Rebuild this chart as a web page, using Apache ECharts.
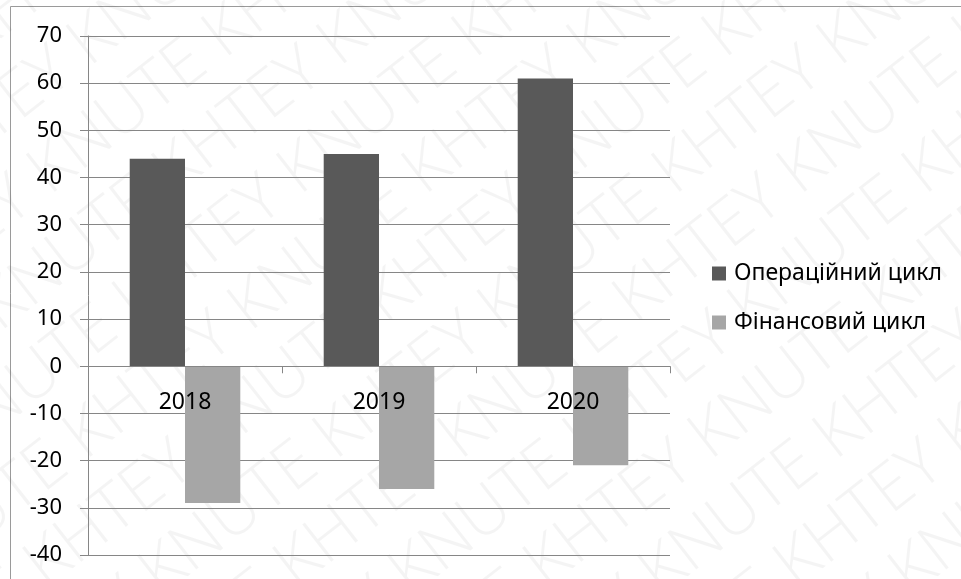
<!DOCTYPE html>
<html>
<head>
<meta charset="utf-8">
<script src="https://cdn.jsdelivr.net/npm/echarts@6/dist/echarts.min.js"></script>
<style>
html,body{margin:0;padding:0;background:#fff;}
#chart{width:961px;height:579px;}
</style>
</head>
<body>
<div id="chart"></div>
<script>
const categories = ['2018', '2019', '2020'];
const operatingCycle = [44, 45, 61];
const financialCycle = [-29, -26, -21];
const seriesNames = ['Операційний цикл', 'Фінансовий цикл'];
const watermarkWords = ['KNUTE', 'KHTEY'];
const yMin = -40, yMax = 70, yStep = 10;

const chart = echarts.init(document.getElementById('chart'), null, {renderer: 'canvas'});
const FONT = 'Noto Sans';
const GRID = {left: 88, right: 291, top: 36, bottom: 24};
const plotH = 579 - GRID.top - GRID.bottom;
const zeroOffset = -plotH * (0 - yMin) / (yMax - yMin);

// watermark rows
const wm = [];
for (let r = -8; r < 12; r++) {
  let s = '';
  for (let k = 0; k < 8; k++) s += watermarkWords[(k + r + 100) % 2] + ' ';
  wm.push({
    type: 'text',
    x: r * 125 - 250, y: 950,
    rotation: 38 * Math.PI / 180,
    originX: 0, originY: 0,
    silent: true,
    style: {text: s, fill: 'rgba(0,0,0,0.045)', font: '300 66px "Open Sans"'}
  });
}

chart.setOption({
  animation: false,
  backgroundColor: '#fff',
  textStyle: {fontFamily: FONT},
  grid: Object.assign({containLabel: false, outerBoundsMode: 'none'}, GRID),
  legend: {
    orient: 'vertical',
    left: 712, top: 262, padding: 0,
    itemWidth: 14, itemHeight: 14, itemGap: 26,
    icon: 'rect',
    textStyle: {fontSize: 23, color: '#000', fontFamily: FONT, padding: [0, 0, 0, 3]},
    data: seriesNames
  },
  xAxis: {
    type: 'category',
    data: categories,
    offset: zeroOffset,
    z: 10,
    axisLine: {onZero: false, lineStyle: {color: '#868686', width: 1}},
    axisTick: {show: true, length: 7, inside: false, lineStyle: {color: '#868686'}},
    axisLabel: {fontSize: 23, color: '#000', margin: 25, fontFamily: FONT},
    splitLine: {show: false}
  },
  yAxis: {
    type: 'value',
    min: yMin, max: yMax, interval: yStep,
    axisLine: {show: true, lineStyle: {color: '#868686', width: 1}},
    axisTick: {show: true, length: 8, lineStyle: {color: '#868686'}},
    axisLabel: {fontSize: 22, color: '#000', margin: 26, fontFamily: FONT},
    splitLine: {show: true, lineStyle: {color: '#868686', width: 1}}
  },
  series: [
    {name: seriesNames[0], type: 'bar', data: operatingCycle, barGap: '0%', barCategoryGap: '43%',
     itemStyle: {color: '#595959'}, z: 2},
    {name: seriesNames[1], type: 'bar', data: financialCycle, barGap: '0%', barCategoryGap: '43%',
     itemStyle: {color: '#a6a6a6'}, z: 2}
  ],
  graphic: [
    {type: 'rect', shape: {x: 10.5, y: 6.5, width: 1000, height: 700}, silent: true, z: -10,
     style: {fill: 'none', stroke: '#9a9a9a', lineWidth: 1}},
    {type: 'group', silent: true, z: 100, children: wm}
  ]
});
</script>
</body>
</html>
